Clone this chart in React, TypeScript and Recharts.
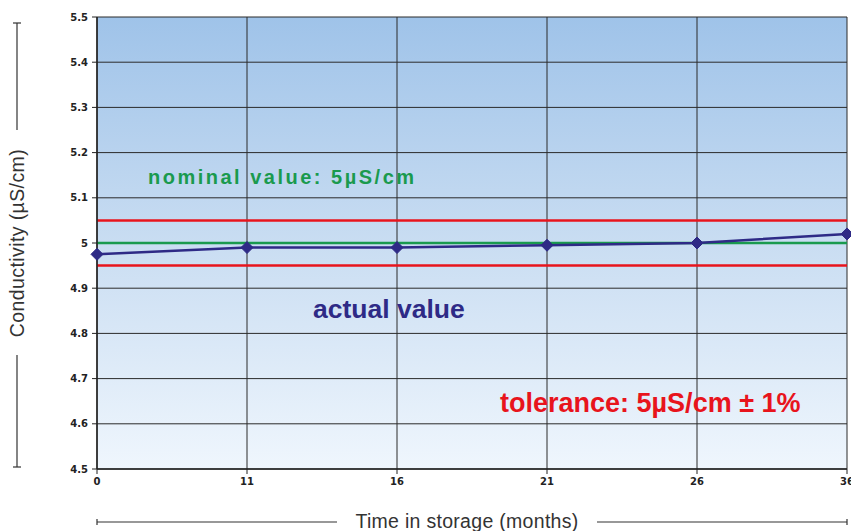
import React from "react";
import {
  LineChart,
  Line,
  XAxis,
  YAxis,
  CartesianGrid,
  ReferenceLine,
  Label,
} from "recharts";

const months = ["0", "11", "16", "21", "26", "36"];
const actualValues = [4.975, 4.99, 4.99, 4.995, 5.0, 5.02];
const yTicks = [4.5, 4.6, 4.7, 4.8, 4.9, 5.0, 5.1, 5.2, 5.3, 5.4, 5.5];
const nominal = 5.0;
const toleranceHigh = 5.05;
const toleranceLow = 4.95;

const data = months.map((m, i) => ({ month: m, value: actualValues[i] }));

const NAVY = "#2e2a86";
const GREEN = "#1a9a4e";
const RED = "#e8141c";
const FONT = "Liberation Sans, Arial, sans-serif";

const Diamond = (props: any) => {
  const { cx, cy } = props;
  if (cx == null || cy == null) return null;
  const r = 6;
  return (
    <polygon
      points={`${cx},${cy - r} ${cx + r},${cy} ${cx},${cy + r} ${cx - r},${cy}`}
      fill={NAVY}
      stroke={NAVY}
    />
  );
};

const fmtY = (v: number) => {
  const s = Number(v).toFixed(1);
  return s === "5.0" ? "5" : s;
};

const YLabel = (props: any) => {
  const vb = props.viewBox || {};
  const x = 17;
  const top = vb.y ?? 17;
  const h = vb.height ?? 452;
  const cy = top + h / 2;
  return (
    <g>
      <line x1={x} x2={x} y1={top + 6} y2={cy - 113} stroke="#333" strokeWidth={1.2} />
      <line x1={x - 4} x2={x + 4} y1={top + 6} y2={top + 6} stroke="#333" strokeWidth={1.2} />
      <text
        x={x + 7}
        y={cy}
        transform={`rotate(-90 ${x + 7} ${cy})`}
        textAnchor="middle"
        fontFamily={FONT}
        fontSize={19.5}
        letterSpacing={0.4}
        fill="#333"
      >
        Conductivity (µS/cm)
      </text>
      <line x1={x} x2={x} y1={cy + 112} y2={top + h - 2} stroke="#333" strokeWidth={1.2} />
      <line x1={x - 4} x2={x + 4} y1={top + h - 2} y2={top + h - 2} stroke="#333" strokeWidth={1.2} />
    </g>
  );
};

const XLabel = (props: any) => {
  const vb = props.viewBox || {};
  const left = vb.x ?? 97;
  const w = vb.width ?? 750;
  const right = left + w;
  const cx = left + w / 2 - 5;
  const y = 522;
  return (
    <g>
      <line x1={left} x2={cx - 130} y1={y} y2={y} stroke="#333" strokeWidth={1.2} />
      <line x1={left} x2={left} y1={y - 3} y2={y + 3} stroke="#333" strokeWidth={1.2} />
      <text
        x={cx}
        y={y + 6}
        textAnchor="middle"
        fontFamily={FONT}
        fontSize={19.5}
        letterSpacing={0.3}
        fill="#333"
      >
        Time in storage (months)
      </text>
      <line x1={cx + 130} x2={right} y1={y} y2={y} stroke="#333" strokeWidth={1.2} />
      <line x1={right} x2={right} y1={y - 3} y2={y + 3} stroke="#333" strokeWidth={1.2} />
    </g>
  );
};

const NominalLabel = (props: any) => {
  const vb = props.viewBox || {};
  return (
    <text
      x={(vb.x ?? 97) + 51}
      y={(vb.y ?? 243) - 59}
      fontFamily={FONT}
      fontWeight="bold"
      fontSize={20}
      letterSpacing={2.5}
      fill={GREEN}
    >
      nominal value: 5µS/cm
    </text>
  );
};

const ActualLabel = (props: any) => {
  const vb = props.viewBox || {};
  return (
    <text
      x={(vb.x ?? 97) + 216}
      y={(vb.y ?? 266) + 52}
      fontFamily={FONT}
      fontWeight="bold"
      fontSize={26.5}
      fill={NAVY}
    >
      actual value
    </text>
  );
};

const ToleranceLabel = (props: any) => {
  const vb = props.viewBox || {};
  return (
    <text
      x={(vb.x ?? 97) + 403}
      y={(vb.y ?? 266) + 146}
      fontFamily={FONT}
      fontWeight="bold"
      fontSize={27}
      fill={RED}
    >
      tolerance: 5µS/cm ± 1%
    </text>
  );
};

export default function App() {
  return (
    <div style={{ position: "absolute", left: 0, top: 0, width: 851, height: 531, background: "#fff" }}>
      <LineChart
        width={851}
        height={531}
        data={data}
        margin={{ top: 17, right: 4, left: 0, bottom: 32 }}
      >
        <defs>
          <linearGradient id="bgGrad" x1="0" y1="0" x2="0" y2="1">
            <stop offset="0%" stopColor="#9fc3e9" />
            <stop offset="50%" stopColor="#c9ddf2" />
            <stop offset="100%" stopColor="#eff6fd" />
          </linearGradient>
        </defs>
        <CartesianGrid stroke="none" fill="url(#bgGrad)" fillOpacity={1} />
        <ReferenceLine y={toleranceLow} stroke="none">
          <Label content={<ActualLabel />} />
        </ReferenceLine>
        <ReferenceLine y={nominal} stroke="none">
          <Label content={<NominalLabel />} />
        </ReferenceLine>
        <ReferenceLine y={toleranceLow} stroke="none">
          <Label content={<ToleranceLabel />} />
        </ReferenceLine>
        <CartesianGrid stroke="#2a2a2a" strokeWidth={1} fill="none" />
        <XAxis
          dataKey="month"
          height={30}
          tickLine={{ stroke: "#222" }}
          axisLine={{ stroke: "#222", strokeWidth: 1.5 }}
          tick={{ fontFamily: "DejaVu Sans, sans-serif", fontWeight: "bold", fontSize: 10, fill: "#222" }}
          tickSize={5}
          tickMargin={4}
          interval={0}
        >
          <Label content={<XLabel />} position="insideBottom" />
        </XAxis>
        <YAxis
          width={97}
          domain={[4.5, 5.5]}
          ticks={yTicks}
          tickFormatter={fmtY}
          interval={0}
          tickLine={{ stroke: "#222" }}
          axisLine={{ stroke: "#222", strokeWidth: 1.5 }}
          tick={{ fontFamily: "DejaVu Sans, sans-serif", fontWeight: "bold", fontSize: 10, fill: "#222" }}
          tickSize={5}
          tickMargin={4}
        >
          <Label content={<YLabel />} position="insideLeft" />
        </YAxis>
        <ReferenceLine y={toleranceHigh} stroke={RED} strokeWidth={2.5} />
        <ReferenceLine y={toleranceLow} stroke={RED} strokeWidth={2.5} />
        <ReferenceLine y={nominal} stroke={GREEN} strokeWidth={2.5} />
        <Line
          type="linear"
          dataKey="value"
          stroke={NAVY}
          strokeWidth={2.5}
          dot={<Diamond />}
          activeDot={false}
          isAnimationActive={false}
        />
      </LineChart>
    </div>
  );
}
